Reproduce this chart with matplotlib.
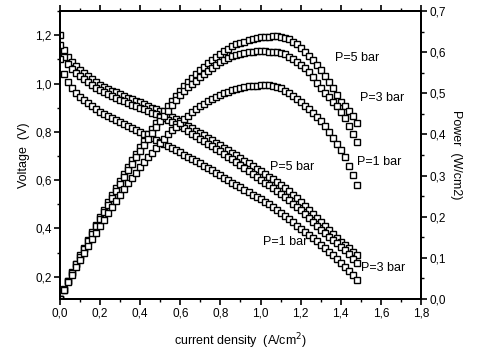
import matplotlib
matplotlib.use('Agg')
import matplotlib.pyplot as plt
from matplotlib.ticker import MultipleLocator, FuncFormatter

plt.rcParams['font.family'] = ['Liberation Sans', 'DejaVu Sans']

# densidad de corriente (A/cm2)
j = [0.00, 0.02, 0.04, 0.06, 0.08, 0.10, 0.12, 0.14, 0.16, 0.18,
     0.20, 0.22, 0.24, 0.26, 0.28, 0.30, 0.32, 0.34, 0.36, 0.38,
     0.40, 0.42, 0.44, 0.46, 0.48, 0.50, 0.52, 0.54, 0.56, 0.58,
     0.60, 0.62, 0.64, 0.66, 0.68, 0.70, 0.72, 0.74, 0.76, 0.78,
     0.80, 0.82, 0.84, 0.86, 0.88, 0.90, 0.92, 0.94, 0.96, 0.98,
     1.00, 1.02, 1.04, 1.06, 1.08, 1.10, 1.12, 1.14, 1.16, 1.18,
     1.20, 1.22, 1.24, 1.26, 1.28, 1.30, 1.32, 1.34, 1.36, 1.38,
     1.40, 1.42, 1.44, 1.46, 1.48]

# voltaje (V)
v_5bar = [1.200, 1.140, 1.110, 1.090, 1.071, 1.055, 1.042, 1.030, 1.018, 1.006,
          0.995, 0.987, 0.979, 0.971, 0.963, 0.955, 0.948, 0.942, 0.935, 0.929,
          0.922, 0.915, 0.908, 0.900, 0.893, 0.885, 0.877, 0.869, 0.861, 0.852,
          0.843, 0.834, 0.824, 0.815, 0.805, 0.795, 0.785, 0.775, 0.765, 0.755,
          0.745, 0.735, 0.725, 0.714, 0.703, 0.691, 0.680, 0.669, 0.658, 0.647,
          0.636, 0.625, 0.613, 0.603, 0.592, 0.580, 0.567, 0.554, 0.540, 0.525,
          0.509, 0.493, 0.477, 0.461, 0.445, 0.428, 0.411, 0.394, 0.377, 0.360,
          0.343, 0.330, 0.317, 0.304, 0.290]
v_3bar = [1.160, 1.110, 1.082, 1.062, 1.045, 1.030, 1.017, 1.005, 0.993, 0.982,
          0.972, 0.964, 0.956, 0.948, 0.940, 0.933, 0.926, 0.920, 0.913, 0.907,
          0.900, 0.893, 0.886, 0.879, 0.872, 0.865, 0.857, 0.849, 0.841, 0.833,
          0.825, 0.815, 0.804, 0.793, 0.781, 0.770, 0.760, 0.750, 0.740, 0.730,
          0.719, 0.708, 0.697, 0.686, 0.674, 0.662, 0.650, 0.638, 0.626, 0.614,
          0.602, 0.590, 0.578, 0.567, 0.556, 0.544, 0.531, 0.517, 0.503, 0.489,
          0.475, 0.460, 0.444, 0.428, 0.411, 0.395, 0.380, 0.366, 0.352, 0.339,
          0.325, 0.309, 0.292, 0.275, 0.258]
v_1bar = [1.100, 1.040, 1.005, 0.980, 0.960, 0.945, 0.931, 0.918, 0.905, 0.894,
          0.883, 0.874, 0.866, 0.858, 0.850, 0.842, 0.834, 0.825, 0.817, 0.808,
          0.800, 0.791, 0.783, 0.774, 0.766, 0.757, 0.749, 0.740, 0.732, 0.723,
          0.715, 0.706, 0.697, 0.688, 0.679, 0.670, 0.660, 0.650, 0.640, 0.630,
          0.620, 0.610, 0.600, 0.590, 0.580, 0.570, 0.560, 0.550, 0.540, 0.530,
          0.521, 0.511, 0.500, 0.489, 0.477, 0.465, 0.452, 0.439, 0.426, 0.412,
          0.398, 0.385, 0.372, 0.359, 0.346, 0.333, 0.318, 0.303, 0.288, 0.273,
          0.258, 0.242, 0.225, 0.207, 0.188]

# potencia (W/cm2)
p_5bar = [0.000, 0.023, 0.044, 0.065, 0.086, 0.106, 0.125, 0.144, 0.163, 0.181,
          0.199, 0.217, 0.235, 0.252, 0.270, 0.287, 0.303, 0.320, 0.337, 0.353,
          0.369, 0.384, 0.400, 0.414, 0.429, 0.443, 0.456, 0.469, 0.482, 0.494,
          0.506, 0.517, 0.527, 0.538, 0.547, 0.557, 0.565, 0.574, 0.581, 0.589,
          0.596, 0.603, 0.609, 0.614, 0.619, 0.622, 0.626, 0.629, 0.632, 0.634,
          0.636, 0.637, 0.638, 0.639, 0.639, 0.638, 0.635, 0.631, 0.626, 0.619,
          0.611, 0.601, 0.591, 0.581, 0.570, 0.556, 0.543, 0.528, 0.513, 0.497,
          0.480, 0.469, 0.456, 0.444, 0.429]
p_3bar = [0.000, 0.022, 0.043, 0.064, 0.084, 0.103, 0.122, 0.141, 0.159, 0.177,
          0.194, 0.212, 0.229, 0.246, 0.263, 0.280, 0.296, 0.313, 0.329, 0.345,
          0.360, 0.375, 0.390, 0.404, 0.419, 0.433, 0.446, 0.458, 0.471, 0.483,
          0.495, 0.505, 0.515, 0.523, 0.531, 0.539, 0.547, 0.555, 0.562, 0.569,
          0.575, 0.581, 0.585, 0.590, 0.593, 0.596, 0.598, 0.600, 0.601, 0.602,
          0.602, 0.602, 0.601, 0.601, 0.600, 0.598, 0.595, 0.589, 0.583, 0.577,
          0.570, 0.561, 0.551, 0.539, 0.526, 0.514, 0.502, 0.490, 0.479, 0.468,
          0.455, 0.439, 0.420, 0.402, 0.382]
p_1bar = [0.000, 0.021, 0.040, 0.059, 0.077, 0.095, 0.112, 0.129, 0.145, 0.161,
          0.177, 0.192, 0.208, 0.223, 0.238, 0.253, 0.267, 0.281, 0.294, 0.307,
          0.320, 0.332, 0.345, 0.356, 0.368, 0.379, 0.389, 0.400, 0.410, 0.419,
          0.429, 0.438, 0.446, 0.454, 0.462, 0.469, 0.475, 0.481, 0.486, 0.491,
          0.496, 0.500, 0.504, 0.507, 0.510, 0.513, 0.515, 0.517, 0.518, 0.519,
          0.521, 0.521, 0.520, 0.518, 0.515, 0.512, 0.506, 0.500, 0.494, 0.486,
          0.478, 0.470, 0.461, 0.452, 0.443, 0.433, 0.420, 0.406, 0.392, 0.377,
          0.361, 0.344, 0.324, 0.302, 0.278]

coma = FuncFormatter(lambda x, pos: f'{x:.1f}'.replace('.', ','))
estilo = dict(ls='none', marker='s', ms=3.8, mfc='white', mec='black', mew=1.0)

fig = plt.figure(figsize=(4.8, 3.58), dpi=100)
ax = fig.add_axes([0.125, 0.165, 0.752, 0.804])
ax2 = ax.twinx()

for v in (v_5bar, v_3bar, v_1bar):
    ax.plot(j, v, **estilo)
for p in (p_5bar, p_3bar, p_1bar):
    ax2.plot(j, p, **estilo)

ax.set_xlim(0, 1.8)
ax.set_ylim(0.108, 1.3)
ax2.set_ylim(0, 0.7)

ax.xaxis.set_major_locator(MultipleLocator(0.2))
ax.xaxis.set_minor_locator(MultipleLocator(0.1))
ax.yaxis.set_major_locator(MultipleLocator(0.2))
ax.yaxis.set_minor_locator(MultipleLocator(0.1))
ax2.yaxis.set_major_locator(MultipleLocator(0.1))
ax2.yaxis.set_minor_locator(MultipleLocator(0.05))
for a in (ax, ax2):
    a.xaxis.set_major_formatter(coma)
    a.yaxis.set_major_formatter(coma)
    a.tick_params(which='major', direction='out', length=4, width=1.2, labelsize=8.5, pad=2)
    a.tick_params(which='minor', direction='out', length=2.5, width=1.0)
    for s in a.spines.values():
        s.set_linewidth(1.4)
ax.tick_params(axis='x', which='both', top=True)

ax.set_xlabel('current density  (A/cm$^2$)', fontsize=9, labelpad=9)
ax.set_ylabel('Voltage  (V)', fontsize=9, labelpad=4)
ax2.set_ylabel('Power  (W/cm2)', fontsize=9, rotation=270, labelpad=12)

# etiquetas de las curvas
ax.text(1.047, 0.655, 'P=5 bar', fontsize=9, va='center')
ax.text(1.012, 0.345, 'P=1 bar', fontsize=9, va='center')
ax.text(1.50, 0.237, 'P=3 bar', fontsize=9, va='center')
ax2.text(1.371, 0.586, 'P=5 bar', fontsize=9, va='center')
ax2.text(1.496, 0.489, 'P=3 bar', fontsize=9, va='center')
ax2.text(1.48, 0.333, 'P=1 bar', fontsize=9, va='center')

plt.savefig('out.png', dpi=100)
plt.close()
